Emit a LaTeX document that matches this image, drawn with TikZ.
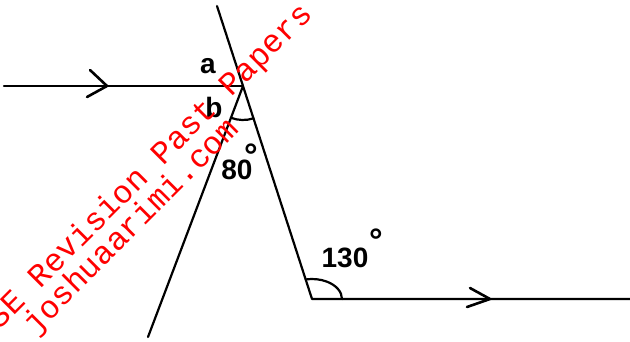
\documentclass[tikz,border=0pt]{standalone}
\usepackage{fontspec}
\newfontfamily\wmfont{Liberation Mono}
\newfontfamily\lblfont{Liberation Sans}
\begin{document}
\begin{tikzpicture}[x=1pt,y=1pt,
  geo/.style={line width=2.2pt, line cap=round, line join=round},
  tip/.style={line width=2.6pt, line cap=round, line join=round},
  lbl/.style={font=\lblfont\bfseries\fontsize{28}{28}\selectfont, inner sep=0pt},
  deg/.style={font=\lblfont\bfseries\fontsize{34}{34}\selectfont, inner sep=0pt},
  wm/.style={font=\wmfont\fontsize{32.2}{32.2}\selectfont, text=red, inner sep=0pt, anchor=base west, rotate=45}]
\useasboundingbox (0,0) rectangle (630,341);
\clip (0,0) rectangle (630,341);
% points
\coordinate (L) at (4,255);
\coordinate (P) at (243,255);
\coordinate (T) at (217,335);
\coordinate (Q) at (312,42);
\coordinate (R) at (148,4);
\coordinate (E) at (630,42);
\coordinate (a1t) at (107,255);
\coordinate (a1u) at (90,271);
\coordinate (a1l) at (87,244);
\coordinate (a2t) at (490,42);
\coordinate (a2u) at (470,53);
\coordinate (a2l) at (467,34);
% lines
\draw[geo] (L) -- (P);
\draw[geo] (T) -- (P) -- (Q) -- (E);
\draw[geo] (P) -- (R);
\draw[tip] (a1u) -- (a1t) -- (a1l);
\draw[tip] (a2u) -- (a2t) -- (a2l);
% angle arcs
\draw[geo] (P) ++(-110.7:34) arc[start angle=-110.7, end angle=-72, radius=34];
\draw[geo] (Q) ++(30,0) arc[start angle=0, end angle=102, x radius=30, y radius=20];
% labels
\node[lbl] (la) at (208,275) {a};
\node[lbl] (lb) at (214,234) {b};
\node[lbl] (l80) at (237,171) {80};
\node[deg] (d80) at (251,185) {°};
\node[lbl] (l130) at (345,83) {130};
\node[deg] (d130) at (376,100) {°};
% watermark
\node[wm] (w1) at (-28,-16.5) {KCSE Revision Past Papers \& Answers};
\node[wm] (w2) at (35.2,5) {joshuaarimi.com};
\end{tikzpicture}
\end{document}
